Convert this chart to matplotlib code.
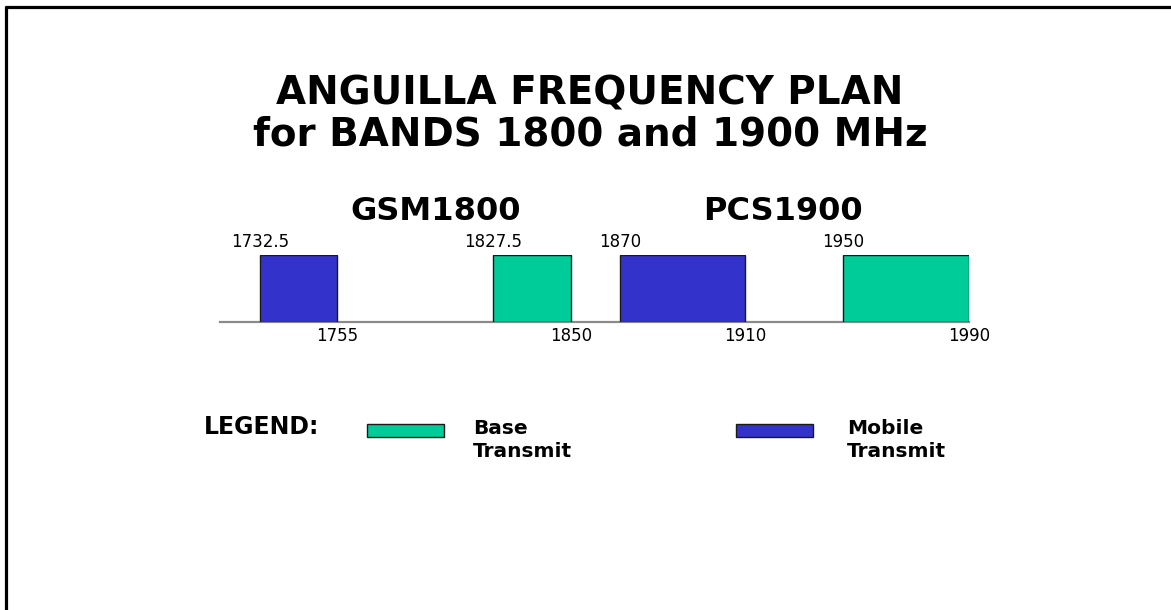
import numpy as np
import matplotlib
matplotlib.use("Agg")
import matplotlib.pyplot as plt
from matplotlib.lines import Line2D
from matplotlib.patches import Rectangle
import matplotlib.transforms as mtransforms

# ---- data ----
band_starts = [1732.5, 1827.5, 1870, 1950]
band_ends = [1755, 1850, 1910, 1990]
band_kind = ["Mobile", "Base", "Mobile", "Base"]
start_labels = ["1732.5", "1827.5", "1870", "1950"]
end_labels = ["1755", "1850", "1910", "1990"]
band_names = ["GSM1800", "PCS1900"]
title_lines = ["ANGUILLA FREQUENCY PLAN", "for BANDS 1800 and 1900 MHz"]
legend_items = ["Base\nTransmit", "Mobile\nTransmit"]

colors = {"Mobile": "#3333CC", "Base": "#00CC99"}

W, H = 1171, 610
fig = plt.figure(figsize=(W / 100, H / 100), dpi=100)
fig.patch.set_facecolor("white")

BOLD = ["DejaVu Sans"]


def fx(x):
    return x / W


def fy(y):
    return 1 - y / H


# border (top + left)
fig.add_artist(Line2D([fx(5), fx(W)], [fy(6.5), fy(6.5)], color="black", lw=2.3,
                      solid_capstyle="butt"))
fig.add_artist(Line2D([fx(6), fx(6)], [fy(5.5), fy(H)], color="black", lw=2.3,
                      solid_capstyle="butt"))

# titles
fig.text(fx(590), fy(104), title_lines[0], ha="center", va="baseline",
         fontsize=28, fontweight="bold", family=BOLD)
fig.text(fx(590), fy(146), title_lines[1], ha="center", va="baseline",
         fontsize=28, fontweight="bold", family=BOLD)

# band names
fig.text(fx(436), fy(220), band_names[0], ha="center", va="baseline",
         fontsize=23, fontweight="bold", family=BOLD)
fig.text(fx(783), fy(220), band_names[1], ha="center", va="baseline",
         fontsize=23, fontweight="bold", family=BOLD)

# ---- bar axes with piecewise (compressed gap) frequency scale ----
freq_lo = 1720.0
anchor_f = [freq_lo] + sorted(band_starts + band_ends)
ax_px_left, ax_px_right = 220, 969
# visual layout of the diagram (pixel positions of band edges)
anchor_px = np.array([220, 260, 337, 493, 571, 620, 745, 843, 969], dtype=float)
anchor_f = np.array(anchor_f, dtype=float)


def fwd(f):
    return np.interp(f, anchor_f, anchor_px)


def inv(p):
    return np.interp(p, anchor_px, anchor_f)


y_top, y_bot = 255, 322
ax = fig.add_axes([fx(ax_px_left), fy(y_bot), (ax_px_right - ax_px_left) / W, (y_bot - y_top) / H])
ax.set_xscale("function", functions=(fwd, inv))
ax.set_xlim(freq_lo, max(band_ends))
ax.set_ylim(0, 1)
ax.set_facecolor("none")
for s in ["top", "left", "right"]:
    ax.spines[s].set_visible(False)
ax.spines["bottom"].set_color("#8a8a8a")
ax.spines["bottom"].set_linewidth(1.6)
ax.set_xticks([])
ax.set_yticks([])

widths = [e - s for s, e in zip(band_starts, band_ends)]
ax.bar(band_starts, [1] * len(band_starts), width=widths, align="edge",
       color=[colors[k] for k in band_kind], edgecolor="#1a1a1a", linewidth=1.0, zorder=3)

# frequency labels: x in data, y in figure pixels
trans = mtransforms.blended_transform_factory(ax.transData, fig.transFigure)
for f, lab in zip(band_starts, start_labels):
    ax.text(f, fy(247), lab, transform=trans, ha="center", va="baseline",
            fontsize=12, family=["DejaVu Sans"])
for f, lab in zip(band_ends, end_labels):
    ax.text(f, fy(341), lab, transform=trans, ha="center", va="baseline",
            fontsize=12, family=["DejaVu Sans"])

# ---- legend ----
fig.text(fx(204), fy(434), "LEGEND:", ha="left", va="baseline",
         fontsize=17, fontweight="bold", family=BOLD)
legend_patch_x = [367, 736]
legend_text_x = [473, 847]
for kind, px, tx, lab in zip(["Base", "Mobile"], legend_patch_x, legend_text_x, legend_items):
    fig.add_artist(Rectangle((fx(px), fy(437)), 77 / W, 13 / H, transform=fig.transFigure,
                             facecolor=colors[kind], edgecolor="#1a1a1a", linewidth=1.0))
    l1, l2 = lab.split("\n")
    fig.text(fx(tx), fy(434), l1, ha="left", va="baseline",
             fontsize=14.5, fontweight="bold", family=BOLD)
    fig.text(fx(tx), fy(457), l2, ha="left", va="baseline",
             fontsize=14.5, fontweight="bold", family=BOLD)

fig.savefig("out.png", dpi=100)
